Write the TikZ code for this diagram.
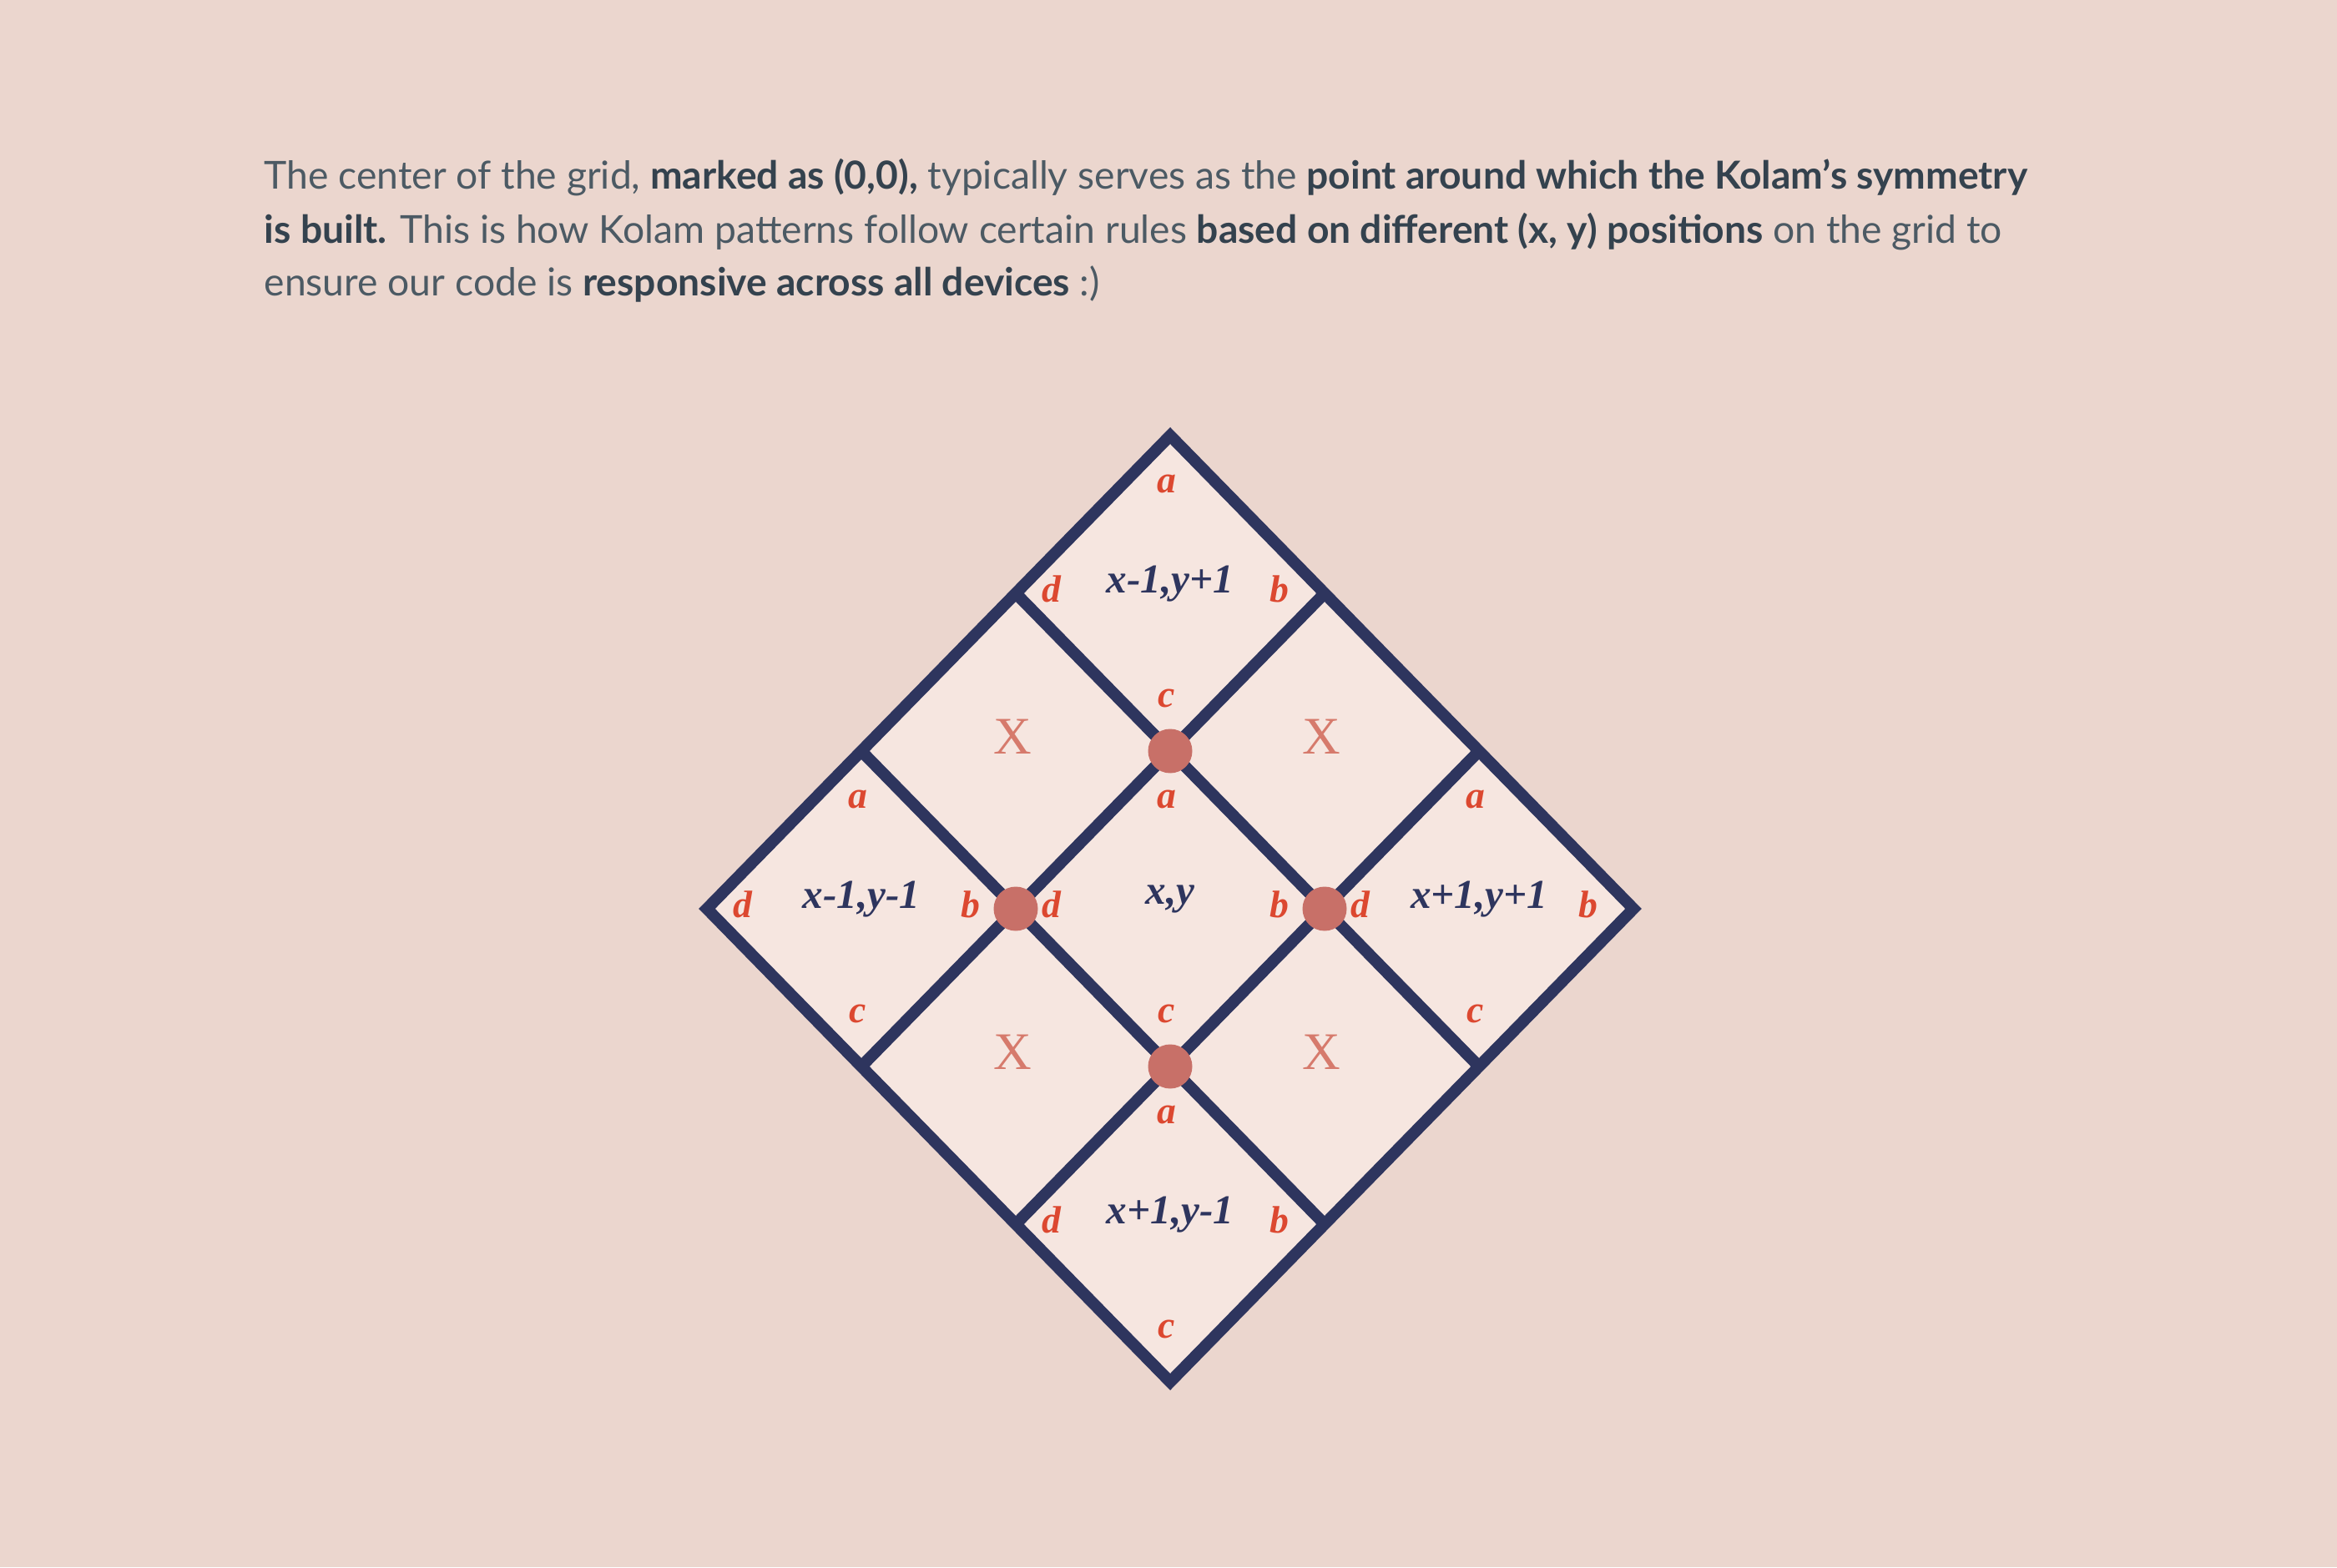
\documentclass[tikz,border=0pt]{standalone}
\usepackage{fontspec}
\setmainfont{Lato}
\newfontfamily\gridfont{Liberation Serif}
\usetikzlibrary{positioning}
\definecolor{bgpink}{RGB}{235,214,206}
\definecolor{cellpink}{RGB}{246,230,224}
\definecolor{navy}{RGB}{46,53,94}
\definecolor{dotred}{RGB}{200,112,104}
\definecolor{lblred}{RGB}{220,72,48}
\definecolor{xred}{RGB}{214,122,108}
\definecolor{txtgrey}{RGB}{76,90,100}
\definecolor{txtdark}{RGB}{52,66,78}
\newcommand{\bld}[1]{{\bfseries\color{txtdark}#1}}
\tikzset{ln/.append style={line width=0.14cm, draw=navy}}
\tikzset{dt/.append style={circle, fill=dotred, minimum size=0.53cm, inner sep=0pt}}
\tikzset{cl/.append style={font=\gridfont\bfseries\itshape\fontsize{14}{14}\selectfont, text=navy, inner sep=0pt}}
\tikzset{cn/.append style={font=\gridfont\bfseries\itshape\fontsize{13}{13}\selectfont, text=lblred, inner sep=0pt}}
\tikzset{xx/.append style={font=\gridfont\fontsize{18}{18}\selectfont, text=xred, inner sep=0pt}}
\tikzset{tl/.append style={anchor=base west, inner sep=0pt, text=txtgrey, font=\fontsize{13.15}{13.15}\selectfont}}

\begin{document}
\begin{tikzpicture}
\fill[bgpink] (0,0) rectangle (28,18.78);
% text above the grid
\node[tl] (l1) at (3.16,16.51) {The center of the grid, \bld{marked as (0,0),} typically serves as the \bld{point around which the Kolam’s symmetry}};
\node[tl] (l2) at (3.16,15.86) {\bld{is built.} This is how Kolam patterns follow certain rules \bld{based on different (x, y) positions} on the grid to};
\node[tl] (l3) at (3.16,15.23) {ensure our code is \bld{responsive across all devices} :)};

\begin{scope}[shift={(14.02,2.22)}, x={(1.85cm,1.89cm)}, y={(-1.85cm,1.89cm)}]
  \fill[cellpink] (0,0) -- (3,0) -- (3,3) -- (0,3) -- cycle;
  \foreach \k in {1,2} {
    \draw[ln] (\k,0) -- (\k,3);
    \draw[ln] (0,\k) -- (3,\k);
  }
  \draw[ln] (0,0) -- (3,0) -- (3,3) -- (0,3) -- cycle;
  % cells with their corners a b c d
  \foreach \n/\i/\j/\s in {up/2.5/2.5/{x-1,y+1}, lf/0.5/2.5/{x-1,y-1}, md/1.5/1.5/{x,y}, rt/2.5/0.5/{x+1,y+1}, dn/0.5/0.5/{x+1,y-1}} {
    \coordinate (\n) at (\i,\j);
    \node[cl] (\n-t) at ([yshift=0.11cm]\n) {\s};
    \node[cn] (\n-a) at ([shift={(-0.04cm,1.31cm)}]\n) {a};
    \node[cn] (\n-b) at ([shift={(1.31cm,0.05cm)}]\n) {b};
    \node[cn] (\n-c) at ([shift={(-0.04cm,-1.26cm)}]\n) {c};
    \node[cn] (\n-d) at ([shift={(-1.42cm,0.05cm)}]\n) {d};
  }
  \foreach \n/\i/\j in {xa/1.5/2.5, xb/2.5/1.5, xc/0.5/1.5, xd/1.5/0.5} {
    \coordinate (\n) at (\i,\j);
    \node[xx] (\n-x) at ([shift={(-0.04cm,0.17cm)}]\n) {X};
  }
  \foreach \i/\j [count=\c] in {1/1,2/1,2/2,1/2}
    \node[dt] (p\c) at (\i,\j) {};
\end{scope}
\end{tikzpicture}
\end{document}
